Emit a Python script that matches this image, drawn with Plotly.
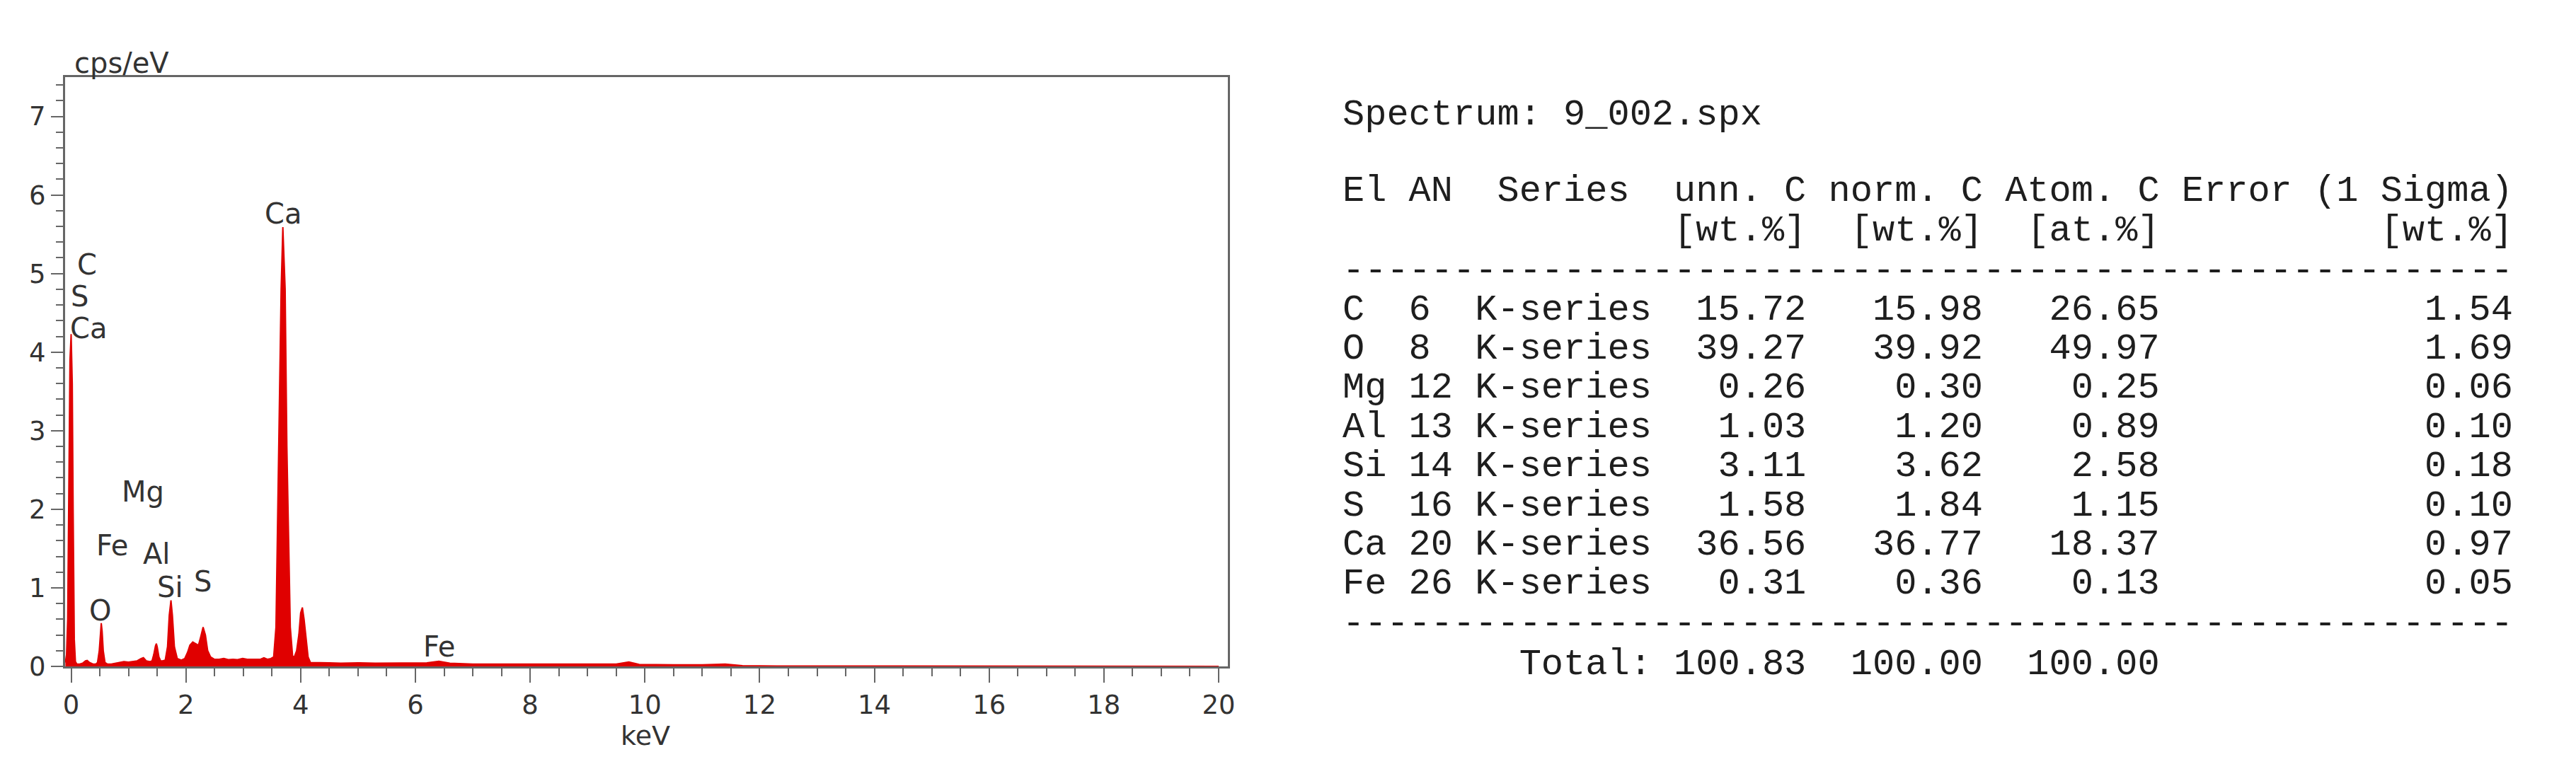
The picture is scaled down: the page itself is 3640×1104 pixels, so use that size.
import plotly.graph_objects as go

# ---------------- data ----------------
energy_kev = [
    -0.10, -0.08, -0.06, -0.04, -0.02, 0.00, 0.02, 0.035, 0.055, 0.075, 0.10,
    0.15, 0.20, 0.25, 0.28, 0.32, 0.38, 0.43,
    0.46, 0.49, 0.51, 0.525, 0.54, 0.56, 0.59, 0.63,
    0.70, 0.78, 0.85, 0.92, 1.00, 1.08, 1.15, 1.22, 1.26, 1.31, 1.37,
    1.41, 1.44, 1.47, 1.485, 1.50, 1.53, 1.56, 1.59,
    1.64, 1.68, 1.71, 1.74, 1.765, 1.80, 1.85, 1.92,
    1.98, 2.03, 2.07, 2.12, 2.17, 2.22, 2.26, 2.30, 2.34, 2.38, 2.43, 2.50,
    2.58, 2.66, 2.74, 2.82, 2.90, 2.99, 3.07, 3.15, 3.22, 3.30, 3.36, 3.42, 3.48,
    3.53, 3.57, 3.62, 3.66, 3.69, 3.73, 3.76, 3.82, 3.86,
    3.89, 3.93, 3.97, 4.00, 4.03, 4.06, 4.09, 4.13, 4.17,
    4.30, 4.50, 4.70, 5.00, 5.30, 5.60, 5.90, 6.20, 6.41, 6.60, 7.00, 7.50,
    8.00, 8.50, 9.00, 9.50, 9.72, 9.90, 10.50, 11.00, 11.40, 11.70, 12.30, 20.0,
]
cps_per_ev = [
    0.05, 0.15, 0.60, 2.40, 3.90, 4.23, 3.60, 2.00, 0.35, 0.06, 0.03,
    0.03, 0.04, 0.07, 0.075, 0.05, 0.03, 0.03,
    0.05, 0.20, 0.45, 0.55, 0.45, 0.20, 0.05, 0.03,
    0.03, 0.04, 0.05, 0.06, 0.055, 0.065, 0.07, 0.10, 0.11, 0.07, 0.06,
    0.07, 0.15, 0.26, 0.29, 0.25, 0.12, 0.07, 0.07,
    0.08, 0.25, 0.65, 0.84, 0.65, 0.25, 0.10, 0.08,
    0.10, 0.18, 0.27, 0.31, 0.29, 0.27, 0.38, 0.50, 0.40, 0.20, 0.12, 0.09,
    0.09, 0.10, 0.085, 0.09, 0.085, 0.10, 0.09, 0.09, 0.095, 0.09, 0.11, 0.09, 0.10,
    0.12, 0.50, 2.80, 4.80, 5.59, 4.80, 2.80, 0.50, 0.13,
    0.12, 0.20, 0.41, 0.68, 0.75, 0.60, 0.41, 0.12, 0.05,
    0.05, 0.045, 0.04, 0.045, 0.04, 0.04, 0.045, 0.045, 0.065, 0.04, 0.03, 0.03,
    0.028, 0.025, 0.025, 0.03, 0.055, 0.025, 0.02, 0.02, 0.03, 0.01, 0.005, 0.0,
]

peak_labels = ["C", "S", "Ca", "Ca", "Mg", "Fe", "Al", "Si", "S", "O", "Fe"]
peak_label_x = [0.28, 0.15, 0.30, 3.70, 1.25, 0.71, 1.49, 1.73, 2.30, 0.51, 6.41]
peak_label_y = [5.11, 4.71, 4.30, 5.76, 2.22, 1.54, 1.43, 1.01, 1.08, 0.71, 0.25]

x_tick_vals = [0, 2, 4, 6, 8, 10, 12, 14, 16, 18, 20]
y_tick_vals = [0, 1, 2, 3, 4, 5, 6, 7]

spectrum_name = "9_002.spx"
elements = ["C", "O", "Mg", "Al", "Si", "S", "Ca", "Fe"]
atomic_numbers = [6, 8, 12, 13, 14, 16, 20, 26]
series_names = ["K-series"] * 8
unn_c_wt = [15.72, 39.27, 0.26, 1.03, 3.11, 1.58, 36.56, 0.31]
norm_c_wt = [15.98, 39.92, 0.30, 1.20, 3.62, 1.84, 36.77, 0.36]
atom_c_at = [26.65, 49.97, 0.25, 0.89, 2.58, 1.15, 18.37, 0.13]
error_1sigma_wt = [1.54, 1.69, 0.06, 0.10, 0.18, 0.10, 0.97, 0.05]
totals = [100.83, 100.00, 100.00]

# ---------------- figure ----------------
OFF = 8                       # default HTML body margin
W, H = 3640 - 2 * OFF, 1104 - 2 * OFF
# plot area in (reference) pixels, shifted by the body margin
PL, PR, PT, PB = 92 - OFF, 1735 - OFF, 109 - OFF, 942 - OFF

def px_x(px):
    return (px - OFF - PL) / (PR - PL)

def px_y(py):
    return (PB - (py - OFF)) / (PB - PT)

RED = "#e00000"
AXC = "#666666"
TXT = "#333333"
SANS = "DejaVu Sans, Verdana, sans-serif"
MONO = "Liberation Mono, Courier New, monospace"

fig = go.Figure()
fig.add_trace(go.Scatter(
    x=energy_kev, y=cps_per_ev, mode="lines",
    line=dict(color=RED, width=2), fill="tozeroy", fillcolor=RED,
    hoverinfo="x+y", showlegend=False,
))

annotations = []
for t, xv, yv in zip(peak_labels, peak_label_x, peak_label_y):
    annotations.append(dict(x=xv, y=yv, xref="x", yref="y", text=t, showarrow=False,
                            font=dict(family=SANS, size=40, color=TXT),
                            xanchor="center", yanchor="middle"))

annotations.append(dict(x=px_x(103), y=px_y(89), xref="paper", yref="paper", text="cps/eV",
                        showarrow=False, xanchor="left", yanchor="middle",
                        font=dict(family=SANS, size=40, color=TXT)))
annotations.append(dict(x=px_x(912), y=px_y(1040), xref="paper", yref="paper", text="keV",
                        showarrow=False, xanchor="center", yanchor="middle",
                        font=dict(family=SANS, size=38, color=TXT)))

# ---------------- result table (monospace text block) ----------------
NB = "\u00a0"
lines = []
lines.append(("Spectrum: " + spectrum_name, 168))
lines.append(("El AN  Series  unn. C norm. C Atom. C Error (1 Sigma)", 276))
lines.append((" " * 15 + "[wt.%]  [wt.%]  [at.%]" + " " * 10 + "[wt.%]", 332))
lines.append(("-" * 53, 389))
row_y0, row_dy = 444, 55.4
for i, el in enumerate(elements):
    s = (f"{el:<3}{str(atomic_numbers[i]):<3}{series_names[i]}"
         f"{unn_c_wt[i]:>7.2f}{norm_c_wt[i]:>8.2f}{atom_c_at[i]:>8.2f}{error_1sigma_wt[i]:>16.2f}")
    lines.append((s, row_y0 + i * row_dy))
lines.append(("-" * 53, 888))
lines.append((" " * 8 + "Total:" + f"{totals[0]:>7.2f}{totals[1]:>8.2f}{totals[2]:>8.2f}", 945))

for s, ypix in lines:
    annotations.append(dict(x=px_x(1895), y=px_y(ypix - 6), xref="paper", yref="paper",
                            text=s.replace(" ", NB), showarrow=False,
                            xanchor="left", yanchor="middle",
                            font=dict(family=MONO, size=52, color="#1e1e1e")))

fig.update_layout(
    width=W, height=H,
    margin=dict(l=PL, r=W - PR, t=PT, b=H - PB, pad=0),
    paper_bgcolor="white", plot_bgcolor="white",
    showlegend=False,
    annotations=annotations,
    xaxis=dict(
        range=[-0.105, 20.16], tickmode="array", tickvals=x_tick_vals,
        ticks="outside", ticklen=20, tickwidth=2, tickcolor=AXC,
        showline=True, linecolor=AXC, linewidth=3, mirror=True,
        showgrid=False, zeroline=False,
        tickfont=dict(family=SANS, size=37, color=TXT),
        minor=dict(dtick=0.5, ticks="outside", ticklen=11, tickwidth=2, tickcolor=AXC, showgrid=False),
    ),
    yaxis=dict(
        range=[0, 7.5], tickmode="array", tickvals=y_tick_vals,
        ticks="outside", ticklen=17, tickwidth=2, tickcolor=AXC,
        showline=True, linecolor=AXC, linewidth=3, mirror=True,
        showgrid=False, zeroline=False,
        tickfont=dict(family=SANS, size=37, color=TXT),
        minor=dict(dtick=0.2, ticks="outside", ticklen=10, tickwidth=2, tickcolor=AXC, showgrid=False),
    ),
)

fig.write_html("out.html")
